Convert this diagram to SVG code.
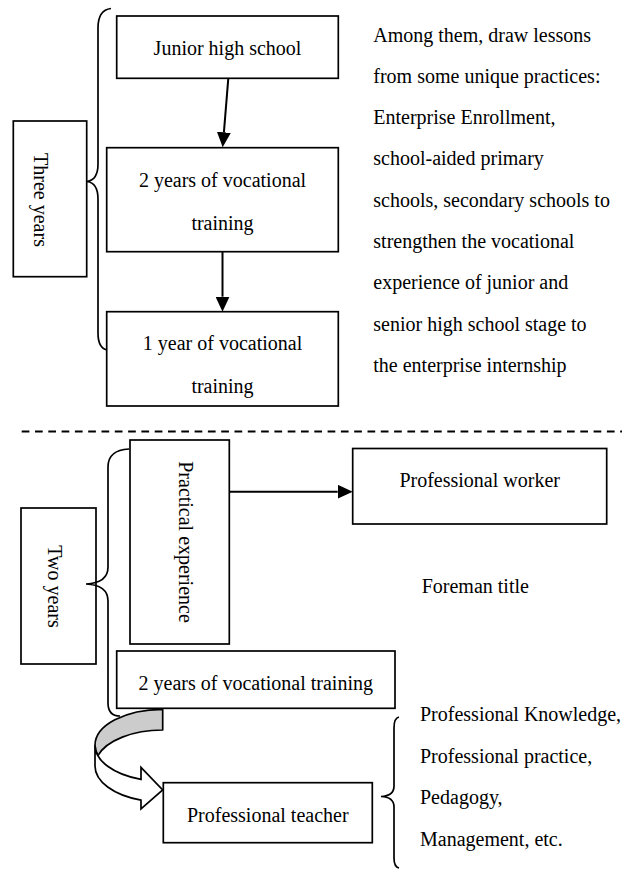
<svg xmlns="http://www.w3.org/2000/svg" width="622" height="870" viewBox="0 0 622 870">
<style>
.box{fill:#fff;stroke:#000;stroke-width:1.7}
.t{font-family:"Liberation Serif","Times New Roman",serif;font-size:20px;fill:#000}
.m{text-anchor:middle}
.br{fill:none;stroke:#000;stroke-width:1.7}
.ln{fill:none;stroke:#000;stroke-width:2}
</style>
<defs>
<marker id="ah" viewBox="0 0 15 14" refX="0" refY="7" markerWidth="15" markerHeight="14" markerUnits="userSpaceOnUse" orient="auto">
<path d="M0,0 L15,7 L0,14 Z" fill="#000"/>
</marker>
</defs>
<rect width="622" height="870" fill="#fff"/>

<g id="three-years">
<rect class="box" x="13.3" y="121" width="73.4" height="155.7"/>
<text class="t m" transform="translate(33.5,200) rotate(90)">Three years</text>
</g>
<g id="junior-high">
<rect class="box" x="116.7" y="16" width="221.6" height="62.3"/>
<text class="t m" x="227.5" y="55">Junior high school</text>
</g>
<g id="two-years-vt">
<rect class="box" x="106.7" y="147.7" width="231.6" height="104"/>
<text class="t m" x="222.5" y="187">2 years of vocational</text>
<text class="t m" x="222.5" y="229.5">training</text>
</g>
<g id="one-year-vt">
<rect class="box" x="106.7" y="311.7" width="231.6" height="94.3"/>
<text class="t m" x="222.5" y="350">1 year of vocational</text>
<text class="t m" x="222.5" y="393">training</text>
</g>
<g id="note-top">
<text class="t" x="373.3" y="41.5">Among them, draw lessons</text>
<text class="t" x="373.3" y="82.8">from some unique practices:</text>
<text class="t" x="373.3" y="124.1">Enterprise Enrollment,</text>
<text class="t" x="373.3" y="165.4">school-aided primary</text>
<text class="t" x="373.3" y="206.7">schools, secondary schools to</text>
<text class="t" x="373.3" y="248">strengthen the vocational</text>
<text class="t" x="373.3" y="289.3">experience of junior and</text>
<text class="t" x="373.3" y="330.6">senior high school stage to</text>
<text class="t" x="373.3" y="371.9">the enterprise internship</text>
</g>

<g id="two-years">
<rect class="box" x="21" y="508" width="75" height="156"/>
<text class="t m" transform="translate(47.5,586.5) rotate(90)">Two years</text>
</g>
<g id="practical-experience">
<rect class="box" x="130" y="440" width="99.3" height="204"/>
<text class="t m" transform="translate(178.5,542) rotate(90)">Practical experience</text>
</g>
<g id="professional-worker">
<rect class="box" x="352.7" y="448.5" width="254" height="75.5"/>
<text class="t m" x="479.7" y="486.7">Professional worker</text>
</g>
<g id="foreman-title">
<text class="t" x="421.7" y="592.7">Foreman title</text>
</g>
<g id="two-years-vt-b">
<rect class="box" x="116.7" y="651" width="278.3" height="57.3"/>
<text class="t m" x="255.8" y="690">2 years of vocational training</text>
</g>
<g id="professional-teacher">
<rect class="box" x="163.3" y="782.7" width="209" height="60"/>
<text class="t m" x="267.8" y="821.7">Professional teacher</text>
</g>
<g id="teacher-list">
<text class="t" x="420" y="721">Professional Knowledge,</text>
<text class="t" x="420" y="762.5">Professional practice,</text>
<text class="t" x="420" y="804">Pedagogy,</text>
<text class="t" x="420" y="845.5">Management, etc.</text>
</g>

<g id="connectors">
<path class="ln" d="M21.7,431.5 L622,431.5" stroke-dasharray="7.7 5.6"/>
<path class="br" d="M111,8.5 Q98,10 98,28 L98,164 Q98,180 87,181.5 Q98,183 98,199 L98,333 Q98,348 107,350"/>
<path class="br" d="M129,449 Q108,450 108,467 L108,567 Q108,583 86,584 Q108,585 108,601 L108,703 Q108,716 120,716"/>
<path class="br" d="M399,717 Q394,718 394,728 L394,786 Q394,796 381,796.5 Q394,797 394,807 L394,858 Q394,867 399,868"/>
<path class="ln" d="M228.3,78.3 L223.9,132.3" marker-end="url(#ah)"/>
<path class="ln" d="M222.5,251.7 L222.5,296.7" marker-end="url(#ah)"/>
<path class="ln" d="M229.3,491.7 L337.7,491.7" marker-end="url(#ah)"/>
<path d="M162.7,709.3 A67.7,36 0 0 0 95,745.3 A67.7,36 0 0 0 97.9,755.65 A67.7,36 0 0 1 162.7,730 Z" fill="#cccccc" stroke="#000" stroke-width="1.7" stroke-linejoin="round"/>
<path d="M95,745.3 A67.7,36 0 0 0 141,779.4 L141,767.3 L162.7,790 L141,809 L141,800.1 A67.7,36 0 0 1 95,766 Z" fill="#fff" stroke="#000" stroke-width="1.7" stroke-linejoin="miter"/>
</g>
</svg>
